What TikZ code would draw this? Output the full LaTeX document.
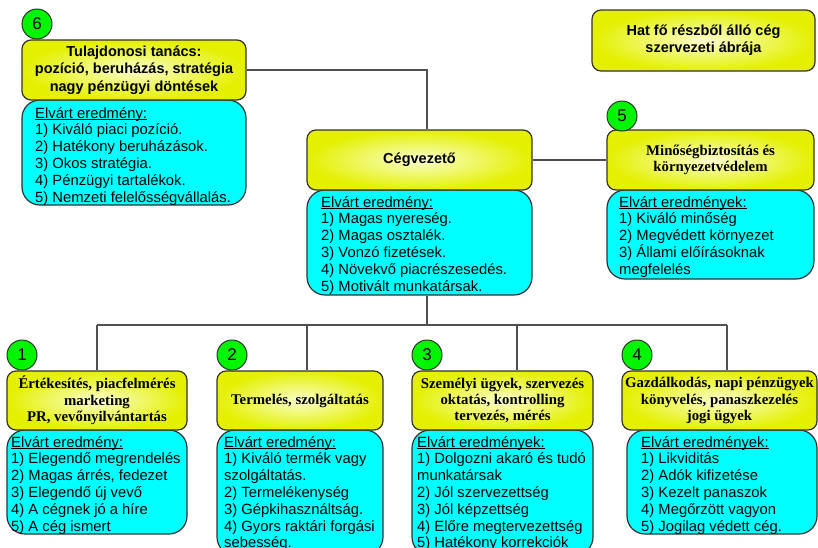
\documentclass[tikz,border=0pt]{standalone}
\usepackage{fontspec}
\setmainfont{Liberation Serif}
\setsansfont{Liberation Sans}
\definecolor{yout}{RGB}{228,240,0}
\definecolor{yin}{RGB}{250,255,205}
\definecolor{cyanf}{RGB}{0,255,255}
\definecolor{greenf}{RGB}{0,245,0}
\definecolor{edgec}{RGB}{50,50,50}
\definecolor{wirec}{RGB}{80,80,80}
\newcommand\myuline[1]{\setbox0\hbox{#1}\rlap{\rule[-2.2pt]{\wd0}{0.9pt}}\box0}
\tikzset{
 hdr/.style={draw=edgec, line width=1.2pt, rounded corners=9pt, shade, inner color=yin, outer color=yout, align=center, inner sep=0pt},
 res/.style={draw=edgec, line width=1.2pt, rounded corners=18pt, fill=cyanf, inner sep=0pt},
 num/.style={circle, draw=edgec, line width=1pt, fill=greenf, minimum size=30pt, inner sep=0pt, font=\sffamily\fontsize{17}{17}\selectfont},
 hsans/.style={font=\sffamily\bfseries\fontsize{14.5}{17.3}\selectfont},
 hserif/.style={font=\rmfamily\bfseries\fontsize{14.8}{16.3}\selectfont},
 listtext/.style={anchor=north west, inner sep=0pt, align=left, font=\sffamily\fontsize{14.8}{16.8}\selectfont},
 conn/.style={draw=wirec, line width=1.2pt}
}
\begin{document}
\begin{tikzpicture}[x=1pt,y=-1pt]
\useasboundingbox (0,0) rectangle (818,547);
\clip (0,0) rectangle (818,547);
\fill[white] (0,0) rectangle (818,547);

% result boxes (cyan)
\node[res, minimum width=224pt, minimum height=105pt] (c6) at (134,152.5) {};
\node[res, minimum width=225pt, minimum height=105pt] (cc) at (419.5,242.5) {};
\node[res, minimum width=207pt, minimum height=89pt] (c5) at (710.5,234.5) {};
\node[res, minimum width=180pt, minimum height=104pt] (c1) at (97,482) {};
\node[res, minimum width=166pt, minimum height=125pt] (c2) at (300,492.5) {};
\node[res, minimum width=181pt, minimum height=125pt] (c3) at (502.5,492.5) {};
\node[res, minimum width=190pt, minimum height=104pt] (c4) at (722,482) {};

% header boxes (yellow)
\node[hdr, hsans, minimum width=223pt, minimum height=61pt] (title) at (703.5,40.5) {Hat fő részből álló cég\\szervezeti ábrája};
\node[hdr, hsans, minimum width=224pt, minimum height=60pt] (h6) at (134,70) {Tulajdonosi tanács:\\pozíció, beruházás, stratégia\\nagy pénzügyi döntések};
\node[hdr, hsans, minimum width=225pt, minimum height=60pt] (hc) at (419.5,160) {Cégvezető};
\node[hdr, hserif, minimum width=207pt, minimum height=60pt] (h5) at (710.5,160) {Minőségbiztosítás és\\környezetvédelem};
\node[hdr, hserif, minimum width=180pt, minimum height=59pt] (h1) at (97,400.5) {Értékesítés, piacfelmérés\\marketing\\PR, vevőnyilvántartás};
\node[hdr, hserif, minimum width=166pt, minimum height=59pt] (h2) at (300,400.5) {Termelés, szolgáltatás};
\node[hdr, hserif, minimum width=181pt, minimum height=59pt] (h3) at (502.5,400.5) {Személyi ügyek, szervezés\\oktatás, kontrolling\\tervezés, mérés};
\node[hdr, hserif, minimum width=195pt, minimum height=59pt] (h4) at (719.5,400.5) {Gazdálkodás, napi pénzügyek\\könyvelés, panaszkezelés\\jogi ügyek};

% number circles
\node[num] (n6) at (37,24) {6};
\node[num] (n5) at (622,116) {5};
\node[num] (n1) at (22,355) {1};
\node[num] (n2) at (232,355) {2};
\node[num] (n3) at (427,355) {3};
\node[num] (n4) at (637,355) {4};

% list texts
\node[listtext] (t6) at (35,107) {\myuline{Elvárt eredmény:}\\1) Kiváló piaci pozíció.\\2) Hatékony beruházások.\\3) Okos stratégia.\\4) Pénzügyi tartalékok.\\5) Nemzeti felelősségvállalás.};
\node[listtext] (tc) at (321,196) {\myuline{Elvárt eredmény:}\\1) Magas nyereség.\\2) Magas osztalék.\\3) Vonzó fizetések.\\4) Növekvő piacrészesedés.\\5) Motivált munkatársak.};
\node[listtext] (t5) at (619,196) {\myuline{Elvárt eredmények:}\\1) Kiváló minőség\\2) Megvédett környezet\\3) Állami előírásoknak\\megfelelés};
\node[listtext] (t1) at (11,436) {\myuline{Elvárt eredmény:}\\1) Elegendő megrendelés\\2) Magas árrés, fedezet\\3) Elegendő új vevő\\4) A cégnek jó a híre\\5) A cég ismert};
\node[listtext] (t2) at (224,436) {\myuline{Elvárt eredmény:}\\1) Kiváló termék vagy\\szolgáltatás.\\2) Termelékenység\\3) Gépkihasználtság.\\4) Gyors raktári forgási\\sebesség.};
\node[listtext] (t3) at (417,436) {\myuline{Elvárt eredmények:}\\1) Dolgozni akaró és tudó\\munkatársak\\2) Jól szervezettség\\3) Jól képzettség\\4) Előre megtervezettség\\5) Hatékony korrekciók};
\node[listtext] (t4) at (641,436) {\myuline{Elvárt eredmények:}\\1) Likviditás\\2) Adók kifizetése\\3) Kezelt panaszok\\4) Megőrzött vagyon\\5) Jogilag védett cég.};

% connectors
\coordinate (hub) at (427,325);
\coordinate (b1) at (97,325);
\coordinate (b2) at (307,325);
\coordinate (b3) at (517,325);
\coordinate (b4) at (727,325);
\draw[conn] (h6.east) -| (hc.north -| hub);
\draw[conn] (hc.east) -- (h5.west);
\draw[conn] (cc.south -| hub) -- (hub);
\draw[conn] (b1) -- (b4);
\draw[conn] (b1) -- (h1.north -| b1);
\draw[conn] (b2) -- (h2.north -| b2);
\draw[conn] (b3) -- (h3.north -| b3);
\draw[conn] (b4) -- (h4.north -| b4);
\end{tikzpicture}
\end{document}
